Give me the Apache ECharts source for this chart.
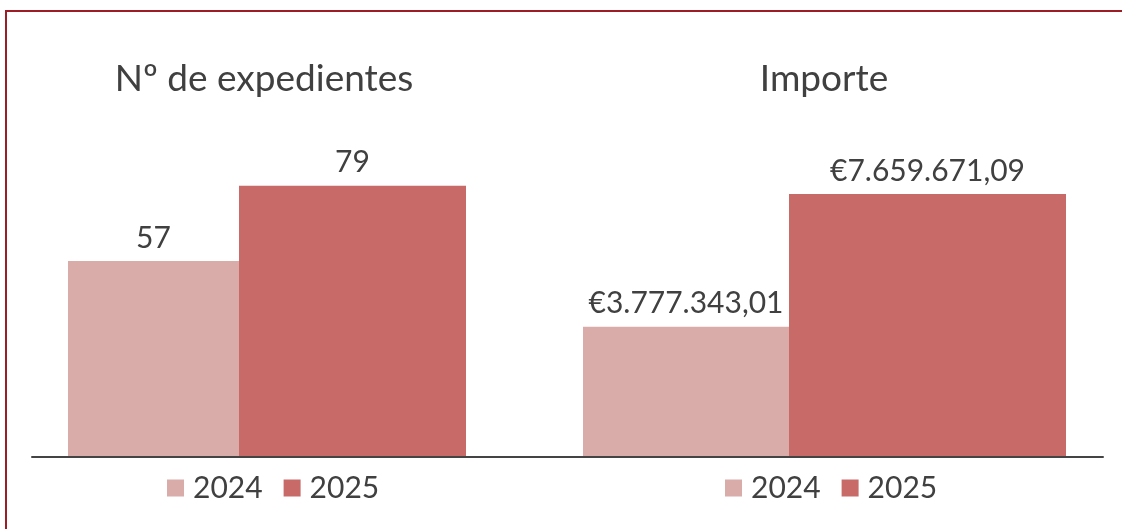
<!DOCTYPE html>
<html>
<head>
<meta charset="utf-8">
<script src="https://cdn.jsdelivr.net/npm/echarts@6/dist/echarts.min.js"></script>
<style>
  html, body { margin: 0; padding: 0; background: #ffffff; }
  #chart { width: 1122px; height: 529px; }
</style>
</head>
<body>
<div id="chart"></div>
<script>
// Panel titles, years and values
const panelTitles = ['Nº de expedientes', 'Importe'];
const years = ['2024', '2025'];
const expedientes = [57, 79];
const importes = [3777343.01, 7659671.09];

const colors = ['#D9ACAA', '#C86A68'];
const textColor = '#404040';
const font = 'Lato';

// Spanish-style euro formatting: €3.777.343,01
function formatEuro(v) {
  const parts = v.toFixed(2).split('.');
  const intPart = parts[0].replace(/\B(?=(\d{3})+(?!\d))/g, '.');
  return '€' + intPart + ',' + parts[1];
}

const chart = echarts.init(document.getElementById('chart'));

const labelBase = {
  show: true,
  position: 'top',
  distance: 8,
  color: textColor,
  fontFamily: font,
  fontSize: 30
};

const legendBase = {
  top: 473,
  padding: 0,
  icon: 'rect',
  itemWidth: 17,
  itemHeight: 17,
  itemGap: 21,
  selectedMode: false,
  textStyle: { color: textColor, fontFamily: font, fontSize: 30, padding: [0, 0, 0, 4] },
  data: years
};

const titleStyle = { color: textColor, fontFamily: font, fontSize: 37, fontWeight: 'normal' };

chart.setOption({
  animation: false,
  backgroundColor: '#ffffff',
  graphic: [{
    type: 'rect',
    shape: { x: 6, y: 11, width: 1300, height: 700 },
    style: { fill: 'none', stroke: '#9E1C26', lineWidth: 2 },
    silent: true,
    z: 10
  }],
  title: [
    { text: panelTitles[0], left: 264, top: 61, padding: 0, textAlign: 'center', textStyle: titleStyle },
    { text: panelTitles[1], left: 824, top: 61, padding: 0, textAlign: 'center', textStyle: titleStyle }
  ],
  legend: [
    Object.assign({ left: 167 }, legendBase),
    Object.assign({ left: 725 }, legendBase)
  ],
  grid: [
    { left: 32, width: 470, top: 114, height: 342 },
    { left: 546, right: 19, top: 114, height: 342 },
    // shared baseline across both panels
    { left: 32, right: 19, top: 455, height: 2 }
  ],
  xAxis: [
    { gridIndex: 0, type: 'category', data: [''], show: false },
    { gridIndex: 1, type: 'category', data: [''], show: false },
    { gridIndex: 2, type: 'category', data: [''], z: 5,
      axisLine: { show: true, lineStyle: { color: '#444444', width: 2 } },
      axisTick: { show: false }, axisLabel: { show: false }, splitLine: { show: false } }
  ],
  yAxis: [
    { gridIndex: 0, type: 'value', min: 0, max: 100, show: false },
    { gridIndex: 1, type: 'value', min: 0, max: 10000000, show: false },
    { gridIndex: 2, type: 'value', min: 0, max: 1, show: false }
  ],
  series: [
    { name: years[0], type: 'bar', xAxisIndex: 0, yAxisIndex: 0, barWidth: 171, barGap: '0%',
      itemStyle: { color: colors[0] }, data: [expedientes[0]], label: labelBase },
    { name: years[1], type: 'bar', xAxisIndex: 0, yAxisIndex: 0, barWidth: 227, barGap: '0%',
      itemStyle: { color: colors[1] }, data: [expedientes[1]], label: labelBase },
    { name: years[0], type: 'bar', xAxisIndex: 1, yAxisIndex: 1, barWidth: 206, barGap: '0%',
      itemStyle: { color: colors[0] }, data: [importes[0]],
      label: Object.assign({}, labelBase, { formatter: p => formatEuro(p.value) }) },
    { name: years[1], type: 'bar', xAxisIndex: 1, yAxisIndex: 1, barWidth: 277, barGap: '0%',
      itemStyle: { color: colors[1] }, data: [importes[1]],
      label: Object.assign({}, labelBase, { formatter: p => formatEuro(p.value) }) }
  ]
});
</script>
</body>
</html>
